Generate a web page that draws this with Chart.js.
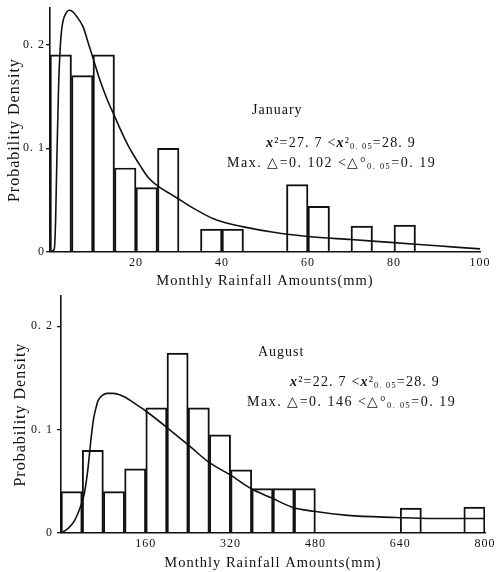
<!DOCTYPE html>
<html>
<head>
<meta charset="utf-8">
<script src="https://cdn.jsdelivr.net/npm/chart.js@4"></script>
<style>
  html, body { margin: 0; padding: 0; background: #fff; }
  #wrap { position: relative; width: 499px; height: 572px; }
  canvas { position: absolute; left: 0; }
  #janChart { top: 0; }
  #augChart { top: 285px; }
</style>
</head>
<body>
<div id="wrap">
  <canvas id="janChart" width="499" height="290"></canvas>
  <canvas id="augChart" width="499" height="287"></canvas>
</div>
<script>
// January: 5 mm bins
const janBinCenters = [2.5, 7.5, 12.5, 17.5, 22.5, 27.5, 32.5, 37.5, 42.5, 47.5, 52.5, 57.5, 62.5, 67.5, 72.5, 77.5, 82.5, 87.5, 92.5, 97.5];
const janDensity = [0.19, 0.17, 0.19, 0.081, 0.062, 0.10, 0, 0.022, 0.022, 0, 0, 0.065, 0.044, 0, 0.025, 0, 0.026, 0, 0, 0];
const janCurveX = [0, 1, 1.3, 1.6, 2, 2.5, 3, 3.7, 4.4, 5.2, 6.2, 7.7, 9, 10, 11.5, 13.3, 15, 16.5, 18, 19.5, 21, 23, 25.6, 28, 30.7, 33, 35.6, 38, 40.2, 45.3, 52, 60, 70, 80, 90, 100];
const janCurveY = [0, 0.003, 0.03, 0.09, 0.16, 0.205, 0.222, 0.23, 0.233, 0.232, 0.227, 0.217, 0.2, 0.187, 0.167, 0.147, 0.131, 0.117, 0.104, 0.093, 0.083, 0.071, 0.062, 0.056, 0.049, 0.043, 0.037, 0.032, 0.029, 0.024, 0.019, 0.015, 0.012, 0.009, 0.006, 0.003];
const janXTicks = [20, 40, 60, 80, 100];

// August: 40 mm bins
const augBinCenters = [20, 60, 100, 140, 180, 220, 260, 300, 340, 380, 420, 460, 500, 540, 580, 620, 660, 700, 740, 780];
const augDensity = [0.04, 0.08, 0.04, 0.062, 0.121, 0.174, 0.121, 0.095, 0.061, 0.043, 0.043, 0.043, 0, 0, 0, 0, 0.024, 0, 0, 0.025];
const augCurveX = [0, 10, 20, 26, 35, 44, 51, 56, 61, 66, 70, 78, 87, 98, 109, 122, 137, 160, 200, 245, 280, 320, 358, 397, 436, 477, 541, 633, 700, 800];
const augCurveY = [0, 0.003, 0.008, 0.0125, 0.023, 0.038, 0.063, 0.088, 0.109, 0.121, 0.128, 0.133, 0.135, 0.135, 0.134, 0.131, 0.126, 0.118, 0.102, 0.083, 0.068, 0.056, 0.043, 0.034, 0.025, 0.021, 0.017, 0.015, 0.014, 0.014];
const augXTicks = [160, 320, 480, 640, 800];

const yTicks = [0, 0.1, 0.2];

const SERIF = "'Liberation Serif', 'Times New Roman', serif";

// 0.1 -> "0. 1" like the printed figure
function fmt(v) {
    if (v === 0) return '0';
    return v.toFixed(1).replace('.', '. ');
}

// text notes (month / chi-square / max delta) drawn after the chart
const notesPlugin = {
    id: 'notes',
    beforeDraw(chart) {
        chart.ctx.letterSpacing = '1px';
    },
    afterDraw(chart, args, opts) {
        const ctx = chart.ctx;
        ctx.save();
        ctx.fillStyle = '#111';
        ctx.textBaseline = 'middle';
        (opts.items || []).forEach(item => {
            let x = item.x;
            ctx.letterSpacing = item.spacing || '1px';
            item.parts.forEach(p => {
                const [txt, kind] = p;
                let size = item.size, dy = 0, style = '';
                if (kind === 'sub') { size = item.size * 0.6; dy = 4; }
                if (kind === 'i') { style = 'italic bold '; }
                ctx.font = style + size + 'px ' + SERIF;
                ctx.fillText(txt, x, item.y + dy);
                x += ctx.measureText(txt).width;
            });
        });
        ctx.restore();
    }
};

function makeChart(id, cfg) {
    const ctx = document.getElementById(id).getContext('2d');
    return new Chart(ctx, {
        type: 'bar',
        data: {
            datasets: [
                {
                    type: 'line',
                    data: cfg.curveX.map((x, i) => ({ x: x, y: cfg.curveY[i] })),
                    borderColor: '#111',
                    borderWidth: 1.6,
                    pointRadius: 0,
                    cubicInterpolationMode: 'monotone',
                    fill: false,
                    order: 1
                },
                {
                    type: 'bar',
                    data: cfg.centers.map((c, i) => ({ x: c, y: cfg.density[i] })),
                    backgroundColor: 'rgba(0,0,0,0)',
                    borderColor: '#111',
                    borderWidth: 1.3,
                    barPercentage: 1,
                    categoryPercentage: 1,
                    grouped: false,
                    order: 2
                }
            ]
        },
        options: {
            responsive: false,
            animation: false,
            layout: { padding: cfg.padding },
            plugins: {
                legend: { display: false },
                tooltip: { enabled: false },
                notes: { items: cfg.notes }
            },
            scales: {
                x: {
                    type: 'linear',
                    offset: false,
                    min: 0,
                    max: cfg.xMax,
                    afterBuildTicks: s => { s.ticks = cfg.xTicks.map(v => ({ value: v })); },
                    afterFit: s => { s.height = cfg.xHeight; },
                    grid: { display: false, drawTicks: false },
                    border: { display: true, color: '#111', width: 1.6 },
                    ticks: {
                        color: '#111',
                        padding: 4,
                        maxRotation: 0,
                        font: { family: SERIF, size: 12 }
                    },
                    title: {
                        display: true,
                        text: 'Monthly Rainfall Amounts(mm)',
                        color: '#111',
                        padding: { top: 0, bottom: 0 },
                        font: { family: SERIF, size: 14.5 }
                    }
                },
                y: {
                    min: 0,
                    max: cfg.yMax,
                    afterBuildTicks: s => { s.ticks = yTicks.map(v => ({ value: v })); },
                    afterFit: s => { s.width = cfg.yWidth; },
                    grid: {
                        display: true,
                        drawOnChartArea: false,
                        drawTicks: true,
                        tickLength: 4,
                        color: '#111',
                        lineWidth: 1.3
                    },
                    border: { display: true, color: '#111', width: 1.6 },
                    ticks: {
                        color: '#111',
                        padding: cfg.yTickPad,
                        callback: v => fmt(v),
                        font: { family: SERIF, size: 12 }
                    },
                    title: {
                        display: true,
                        text: 'Probability Density',
                        color: '#111',
                        padding: { top: cfg.yTitlePad, bottom: 0 },
                        font: { family: SERIF, size: 16 }
                    }
                }
            }
        },
        plugins: [notesPlugin]
    });
}

makeChart('janChart', {
    centers: janBinCenters,
    density: janDensity,
    curveX: janCurveX,
    curveY: janCurveY,
    xTicks: janXTicks,
    xMax: 100,
    yMax: 0.235,
    padding: { top: 5, right: 19, left: 0, bottom: 0 },
    xHeight: 38,
    yWidth: 50,
    yTickPad: 1,
    yTitlePad: 5,
    notes: [
        { x: 252, y: 110, size: 14, parts: [['January']] },
        { x: 266, y: 143, size: 14, spacing: '1.2px', parts: [['x', 'i'], ['²'], ['=27. 7 <'], ['x', 'i'], ['²'], ['0. 05', 'sub'], ['=28. 9']] },
        { x: 227, y: 163, size: 14, spacing: '1.5px', parts: [['Max. △=0. 102 <△°'], ['0. 05', 'sub'], ['=0. 19']] }
    ]
});

makeChart('augChart', {
    centers: augBinCenters,
    density: augDensity,
    curveX: augCurveX,
    curveY: augCurveY,
    xTicks: augXTicks,
    xMax: 800,
    yMax: 0.229,
    padding: { top: 10, right: 14, left: 0, bottom: 0 },
    xHeight: 39,
    yWidth: 61,
    yTickPad: 4,
    yTitlePad: 11,
    notes: [
        { x: 258, y: 67, size: 14, parts: [['August']] },
        { x: 290, y: 97, size: 14, spacing: '1.2px', parts: [['x', 'i'], ['²'], ['=22. 7 <'], ['x', 'i'], ['²'], ['0. 05', 'sub'], ['=28. 9']] },
        { x: 247, y: 117, size: 14, spacing: '1.5px', parts: [['Max. △=0. 146 <△°'], ['0. 05', 'sub'], ['=0. 19']] }
    ]
});
</script>
</body>
</html>
